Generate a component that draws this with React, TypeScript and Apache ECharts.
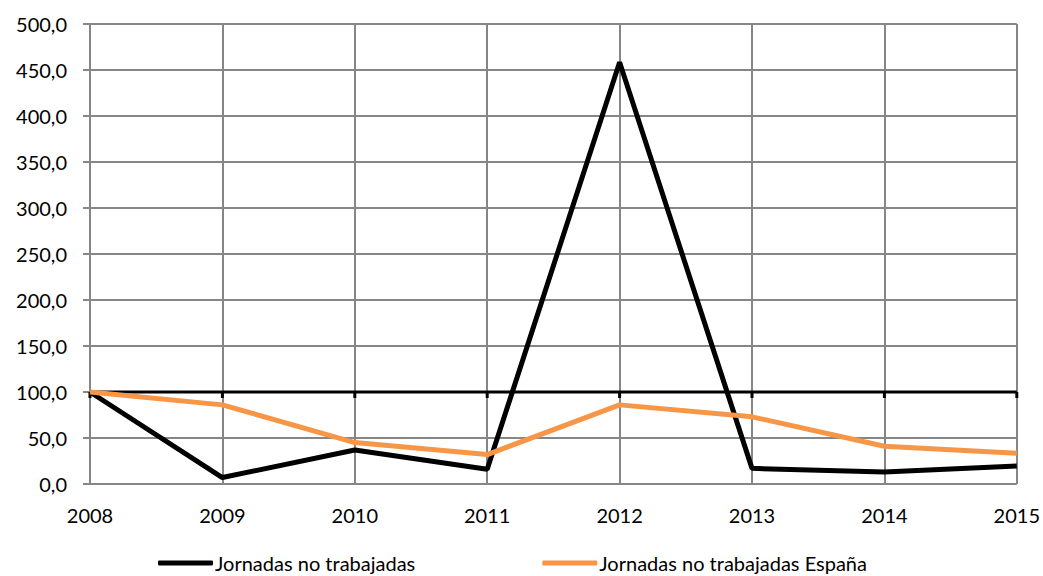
import React, { useEffect, useRef } from "react";
import * as echarts from "echarts";

const years = ["2008", "2009", "2010", "2011", "2012", "2013", "2014", "2015"];
const jornadas = [100, 7, 37, 16, 458.5, 17, 13, 19.5];
const jornadasEspana = [100, 86, 45, 32, 86, 73, 41, 33.5];
const crossValue = 100;
const crossData = years.map(() => crossValue);

const FONT = "Lato, 'Noto Sans', sans-serif";
const GRID = "#868686";

export default function App() {
  const ref = useRef<HTMLDivElement>(null);
  useEffect(() => {
    if (!ref.current) return;
    const chart = echarts.init(ref.current, undefined, { renderer: "svg" });
    chart.setOption({
      animation: false,
      textStyle: { fontFamily: FONT },
      grid: { left: 90, right: 25, top: 24, bottom: 92, containLabel: false },
      legend: {
        data: ["Jornadas no trabajadas", "Jornadas no trabajadas España"],
        left: 158,
        top: 553,
        padding: 0,
        itemGap: 127,
        itemWidth: 55,
        itemHeight: 5,
        icon: "roundRect",
        textStyle: { fontSize: 20, color: "#000", fontFamily: FONT, padding: [0, 0, 0, -3], lineHeight: 20 },
      },
      xAxis: {
        type: "category",
        data: years,
        boundaryGap: false,
        axisLine: { show: false },
        axisTick: { show: false },
        axisLabel: { fontSize: 20, color: "#000", margin: 21, fontFamily: FONT },
        splitLine: { show: true, lineStyle: { color: GRID, width: 2 } },
      },
      yAxis: {
        type: "value",
        min: 0,
        max: 500,
        interval: 50,
        axisLine: { show: true, lineStyle: { color: GRID, width: 2 } },
        axisTick: { show: true, length: 7, lineStyle: { color: GRID, width: 2 } },
        axisLabel: {
          fontSize: 20,
          color: "#000",
          margin: 23,
          fontFamily: FONT,
          formatter: (v: number) => v.toFixed(1).replace(".", ","),
        },
        splitLine: { show: true, lineStyle: { color: GRID, width: 2 } },
      },
      series: [
        {
          type: "custom",
          name: "axis",
          z: 1,
          silent: true,
          data: crossData,
          renderItem: (params: any, api: any) => {
            const idx = params.dataIndex;
            const p = api.coord([idx, crossValue]);
            const children: any[] = [
              {
                type: "line",
                shape: { x1: p[0], y1: p[1], x2: p[0], y2: p[1] + 6 },
                style: { stroke: "#000", lineWidth: 3 },
              },
            ];
            if (idx === 0) {
              const pEnd = api.coord([years.length - 1, crossValue]);
              children.push({
                type: "line",
                shape: { x1: p[0], y1: p[1], x2: pEnd[0], y2: pEnd[1] },
                style: { stroke: "#000", lineWidth: 3 },
              });
            }
            return { type: "group", children };
          },
        },
        {
          type: "line",
          name: "Jornadas no trabajadas",
          data: jornadas,
          z: 3,
          symbol: "none",
          lineStyle: { color: "#000", width: 5 },
          itemStyle: { color: "#000" },
        },
        {
          type: "line",
          name: "Jornadas no trabajadas España",
          data: jornadasEspana,
          z: 4,
          symbol: "none",
          lineStyle: { color: "#F79646", width: 5 },
          itemStyle: { color: "#F79646" },
        },
      ],
    });
    return () => chart.dispose();
  }, []);
  return <div ref={ref} style={{ width: 1043, height: 576, position: "absolute", left: 0, top: 0 }} />;
}
